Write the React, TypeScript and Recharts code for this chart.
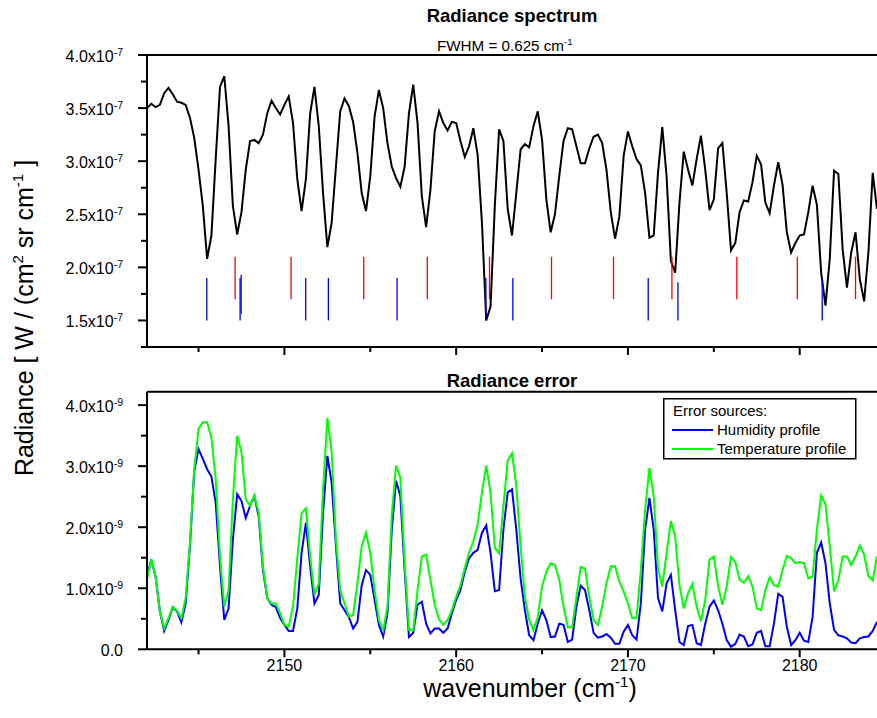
import { LineChart, Line, XAxis, YAxis, ReferenceLine, Legend } from "recharts"

const FONT = '"Liberation Sans", Arial, Helvetica, sans-serif'

// wavenumber grid (cm-1): first point and sampling step
const wnStart = 2142
const wnStep = 0.25

// radiance spectrum, units of 1e-7 W / (cm2 sr cm-1)
const radiance = [
    3.50, 3.54, 3.51, 3.53, 3.64, 3.69, 3.63, 3.56, 3.55, 3.53,
    3.41, 3.22, 2.92, 2.58, 2.08, 2.30, 3.02, 3.70, 3.80, 3.33,
    2.58, 2.31, 2.52, 2.92, 3.19, 3.20, 3.17, 3.25, 3.45, 3.57,
    3.50, 3.44, 3.53, 3.61, 3.36, 2.83, 2.53, 2.83, 3.45, 3.70,
    3.33, 2.70, 2.19, 2.42, 2.95, 3.47, 3.59, 3.52, 3.37, 3.08,
    2.70, 2.53, 2.86, 3.42, 3.67, 3.50, 3.17, 2.95, 2.84, 2.76,
    2.95, 3.45, 3.72, 3.36, 2.67, 2.38, 2.73, 3.28, 3.47, 3.36,
    3.29, 3.37, 3.36, 3.19, 3.04, 3.14, 3.31, 3.06, 2.42, 1.50,
    1.63, 2.58, 3.30, 3.19, 2.55, 2.30, 2.70, 3.11, 3.16, 3.13,
    3.33, 3.47, 3.20, 2.64, 2.33, 2.50, 2.86, 3.19, 3.31, 3.30,
    3.14, 2.98, 2.98, 3.12, 3.23, 3.25, 3.17, 2.92, 2.52, 2.27,
    2.48, 3.05, 3.28, 3.14, 3.02, 2.96, 2.70, 2.28, 2.30, 2.89,
    3.32, 2.86, 2.06, 1.95, 2.61, 3.09, 2.92, 2.77, 3.02, 3.24,
    2.92, 2.54, 2.64, 3.12, 3.17, 2.70, 2.16, 2.23, 2.52, 2.63,
    2.62, 2.80, 3.05, 2.97, 2.61, 2.51, 2.77, 2.99, 2.78, 2.33,
    2.14, 2.23, 2.30, 2.31, 2.52, 2.77, 2.59, 1.95, 1.64, 2.08,
    2.91, 2.88, 2.17, 1.81, 2.14, 2.33, 1.89, 1.68, 2.14, 2.89,
    2.55,
]

// radiance error from the humidity profile, units of 1e-9
const humidity = [
    1.19, 1.47, 1.19, 0.62, 0.30, 0.48, 0.69, 0.62, 0.44, 0.75,
    1.69, 2.92, 3.28, 3.12, 2.95, 2.83, 2.40, 1.36, 0.48, 0.67,
    1.80, 2.54, 2.43, 2.15, 2.35, 2.51, 2.18, 1.30, 0.84, 0.73,
    0.69, 0.51, 0.40, 0.30, 0.30, 0.67, 1.58, 2.07, 1.36, 0.75,
    0.89, 2.24, 3.17, 2.73, 1.69, 0.75, 0.64, 0.53, 0.34, 0.45,
    1.05, 1.30, 1.22, 0.81, 0.40, 0.21, 0.59, 1.95, 2.76, 2.51,
    1.30, 0.20, 0.27, 0.73, 0.78, 0.42, 0.26, 0.34, 0.34, 0.27,
    0.34, 0.59, 0.81, 0.97, 1.27, 1.49, 1.58, 1.63, 1.91, 2.03,
    1.58, 0.95, 0.97, 1.96, 2.57, 2.62, 1.96, 1.16, 0.64, 0.23,
    0.15, 0.42, 0.64, 0.48, 0.20, 0.21, 0.42, 0.40, 0.12, 0.16,
    0.70, 1.04, 0.97, 0.64, 0.27, 0.19, 0.21, 0.25, 0.19, 0.09,
    0.09, 0.29, 0.40, 0.23, 0.16, 0.75, 1.96, 2.48, 1.96, 0.84,
    0.62, 1.08, 1.22, 0.64, 0.12, 0.07, 0.38, 0.40, 0.10, 0.07,
    0.42, 0.70, 0.80, 0.64, 0.42, 0.15, 0.04, 0.09, 0.24, 0.21,
    0.05, 0.08, 0.27, 0.30, 0.05, 0.05, 0.42, 0.91, 0.86, 0.37,
    0.07, 0.15, 0.27, 0.14, 0.12, 0.53, 1.58, 1.75, 1.41, 0.75,
    0.32, 0.23, 0.21, 0.18, 0.11, 0.10, 0.18, 0.20, 0.21, 0.30,
    0.45,
]

// radiance error from the temperature profile, units of 1e-9
const temperature = [
    1.15, 1.47, 1.19, 0.62, 0.34, 0.51, 0.69, 0.63, 0.51, 0.84,
    1.74, 2.95, 3.61, 3.72, 3.72, 3.47, 2.79, 1.52, 0.70, 0.97,
    2.46, 3.50, 3.23, 2.46, 2.35, 2.52, 2.24, 1.36, 0.84, 0.75,
    0.75, 0.59, 0.40, 0.37, 0.70, 1.49, 2.23, 2.31, 1.52, 0.89,
    1.08, 2.62, 3.79, 3.23, 1.80, 0.97, 0.75, 0.54, 0.56, 1.08,
    1.69, 1.91, 1.58, 0.97, 0.48, 0.31, 0.70, 2.20, 3.01, 2.81,
    1.41, 0.32, 0.31, 0.97, 1.52, 1.55, 1.14, 0.73, 0.49, 0.40,
    0.48, 0.64, 0.86, 1.05, 1.33, 1.58, 1.77, 2.04, 2.57, 3.01,
    2.57, 1.66, 1.57, 2.35, 3.09, 3.21, 2.68, 1.69, 0.86, 0.48,
    0.31, 0.53, 1.03, 1.27, 1.41, 1.38, 1.14, 0.70, 0.36, 0.36,
    0.86, 1.35, 1.32, 0.86, 0.48, 0.40, 0.70, 1.08, 1.36, 1.36,
    1.11, 0.95, 0.75, 0.51, 0.51, 1.30, 2.29, 2.97, 2.51, 1.33,
    1.03, 1.58, 2.10, 1.85, 1.05, 0.67, 0.92, 1.07, 0.70, 0.46,
    0.81, 1.47, 1.52, 1.03, 0.73, 1.03, 1.51, 1.43, 1.14, 1.09,
    1.20, 1.03, 0.67, 0.64, 0.97, 1.18, 1.05, 1.03, 1.30, 1.53,
    1.49, 1.41, 1.43, 1.41, 1.16, 1.19, 1.96, 2.52, 2.37, 1.69,
    0.95, 1.13, 1.52, 1.52, 1.38, 1.52, 1.70, 1.55, 1.20, 1.13,
    1.52,
]

// line positions marked under the spectrum (cm-1), with their extent in 1e-7 units
const redLines = [2147.13, 2150.39, 2154.62, 2158.32, 2161.94, 2165.55, 2169.16, 2172.56, 2176.34, 2179.86, 2183.25]
const redLo = 1.70
const redHi = 2.10
const blueLines = [
    { wn: 2145.48, lo: 1.50, hi: 1.90 },
    { wn: 2147.42, lo: 1.50, hi: 1.90 },
    { wn: 2147.48, lo: 1.56, hi: 1.93 },
    { wn: 2151.24, lo: 1.50, hi: 1.90 },
    { wn: 2152.56, lo: 1.50, hi: 1.90 },
    { wn: 2156.56, lo: 1.50, hi: 1.90 },
    { wn: 2161.73, lo: 1.50, hi: 1.90 },
    { wn: 2163.30, lo: 1.50, hi: 1.90 },
    { wn: 2171.18, lo: 1.50, hi: 1.90 },
    { wn: 2172.91, lo: 1.50, hi: 1.86 },
    { wn: 2181.31, lo: 1.50, hi: 1.90 },
]

const xTicks = [2145, 2150, 2155, 2160, 2165, 2170, 2175, 2180]
const specTicks = [1.25, 1.5, 1.75, 2.0, 2.25, 2.5, 2.75, 3.0, 3.25, 3.5, 3.75, 4.0]
const errTicks = [0, 0.5, 1.0, 1.5, 2.0, 2.5, 3.0, 3.5, 4.0]

const rows = radiance.map((r, i) => ({
    wn: wnStart + i * wnStep,
    radiance: r,
    humidity: humidity[i],
    temperature: temperature[i],
}))

const axisStyle = { stroke: "#000", strokeWidth: 2 }

const makeXTick = (showLabel: boolean) => (props: any) => {
    const { x, y, payload } = props
    const major = payload.value % 10 === 0
    return (
        <g>
            <line x1={x} x2={x} y1={y} y2={y + (major ? 8 : 5)} stroke="#000" strokeWidth={2} />
            {showLabel && major && (
                <text x={x} y={y + 22} textAnchor="middle" fontSize={16} fontFamily={FONT} fill="#000">
                    {payload.value}
                </text>
            )}
        </g>
    )
}

const makeYTick = (exp: string, majorStep: number) => (props: any) => {
    const { x, y, payload } = props
    const v = payload.value
    const r = v / majorStep
    const major = Math.abs(r - Math.round(r)) < 1e-6
    return (
        <g>
            <line x1={x - (major ? 9 : 6)} x2={x} y1={y} y2={y} stroke="#000" strokeWidth={2} />
            {major && (
                <text x={x - 24} y={y + 7} textAnchor="end" fontSize={16} fontFamily={FONT} fill="#000">
                    {v === 0 ? (
                        "0.0"
                    ) : (
                        <>
                            {v.toFixed(1)}x10
                            <tspan dy={-6} fontSize={10.5}>{exp}</tspan>
                        </>
                    )}
                </text>
            )}
        </g>
    )
}

function ErrorLegend(props: any) {
    const payload = props.payload || []
    return (
        <svg width={194} height={62} style={{ display: "block" }}>
            <rect x={0.75} y={0.75} width={192} height={60} fill="#fff" stroke="#000" strokeWidth={1.5} />
            <text x={10} y={18} fontSize={15} fontFamily={FONT} fill="#000">Error sources:</text>
            {payload.map((p: any, i: number) => (
                <g key={p.value}>
                    <line x1={9} x2={50} y1={32 + i * 19} y2={32 + i * 19} stroke={p.color} strokeWidth={2} />
                    <text x={54} y={37 + i * 19} fontSize={15} fontFamily={FONT} fill="#000">{p.value}</text>
                </g>
            ))}
        </svg>
    )
}

export default function App() {
    return (
        <div style={{ position: "absolute", left: 0, top: 0, width: 877, height: 718, overflow: "hidden", background: "#fff" }}>
            <div style={{ position: "absolute", left: 0, top: 0 }}>
                <LineChart width={877} height={360} data={rows} margin={{ top: 55, right: 0, bottom: 0, left: 0 }}>
                    <XAxis dataKey="wn" type="number" domain={[2142, 2184.5]} allowDataOverflow ticks={xTicks} interval={0}
                        height={13} tickSize={0} tickMargin={0} tickLine={false} axisLine={axisStyle} tick={makeXTick(false)} />
                    <YAxis type="number" domain={[1.25, 4.0]} allowDataOverflow ticks={specTicks} interval={0}
                        width={147} tickSize={0} tickMargin={0} tickLine={false} axisLine={axisStyle} tick={makeYTick("-7", 0.5)} />
                    <ReferenceLine y={4.0} stroke="#000" strokeWidth={2} />
                    <Line type="linear" dataKey="radiance" stroke="#000" strokeWidth={2} dot={false} isAnimationActive={false} />
                    {redLines.map((wn) => (
                        <ReferenceLine key={"r" + wn} segment={[{ x: wn, y: redLo }, { x: wn, y: redHi }]} stroke="#ff0000" strokeWidth={1.3} />
                    ))}
                    {blueLines.map((b) => (
                        <ReferenceLine key={"b" + b.wn} segment={[{ x: b.wn, y: b.lo }, { x: b.wn, y: b.hi }]} stroke="#0000ff" strokeWidth={1.3} />
                    ))}
                </LineChart>
            </div>
            <div style={{ position: "absolute", left: 0, top: 360 }}>
                <LineChart width={877} height={358} data={rows} margin={{ top: 31.7, right: 0, bottom: 0, left: 0 }}>
                    <XAxis dataKey="wn" type="number" domain={[2142, 2184.5]} allowDataOverflow ticks={xTicks} interval={0}
                        height={68.7} tickSize={0} tickMargin={0} tickLine={false} axisLine={axisStyle} tick={makeXTick(true)} />
                    <YAxis type="number" domain={[0, 4.22]} allowDataOverflow ticks={errTicks} interval={0}
                        width={147} tickSize={0} tickMargin={0} tickLine={false} axisLine={axisStyle} tick={makeYTick("-9", 1)} />
                    <ReferenceLine y={4.22} stroke="#000" strokeWidth={2} />
                    <Line type="linear" dataKey="humidity" name="Humidity profile" stroke="#0000ff" strokeWidth={2} dot={false} isAnimationActive={false} />
                    <Line type="linear" dataKey="temperature" name="Temperature profile" stroke="#00ff00" strokeWidth={2} dot={false} isAnimationActive={false} />
                    <Legend layout="vertical" align="center" verticalAlign="middle" content={ErrorLegend}
                        wrapperStyle={{ position: "absolute", left: 663, top: 38, width: 194, height: 62 }} />
                </LineChart>
            </div>
            <svg width={877} height={718} style={{ position: "absolute", left: 0, top: 0, pointerEvents: "none" }}>
                <text x={512} y={22} textAnchor="middle" fontSize={18.5} fontWeight="bold" fontFamily={FONT} fill="#000">Radiance spectrum</text>
                <text x={437} y={51} fontSize={15.2} fontFamily={FONT} fill="#000">
                    FWHM = 0.625 cm<tspan dy={-6} fontSize={9.5}>-1</tspan>
                </text>
                <text x={512} y={387} textAnchor="middle" fontSize={18.5} fontWeight="bold" fontFamily={FONT} fill="#000">Radiance error</text>
                <text x={530} y={697} textAnchor="middle" fontSize={25} fontFamily={FONT} fill="#000">
                    wavenumber (cm<tspan dy={-10} fontSize={15}>-1</tspan><tspan dy={10}>)</tspan>
                </text>
                <text transform="translate(33,318) rotate(-90)" textAnchor="middle" fontSize={25} fontFamily={FONT} fill="#000">
                    Radiance [ W / (cm<tspan dy={-10} fontSize={15}>2</tspan><tspan dy={10}> sr cm</tspan>
                    <tspan dy={-10} fontSize={15}>-1</tspan><tspan dy={10}> ]</tspan>
                </text>
            </svg>
        </div>
    )
}
